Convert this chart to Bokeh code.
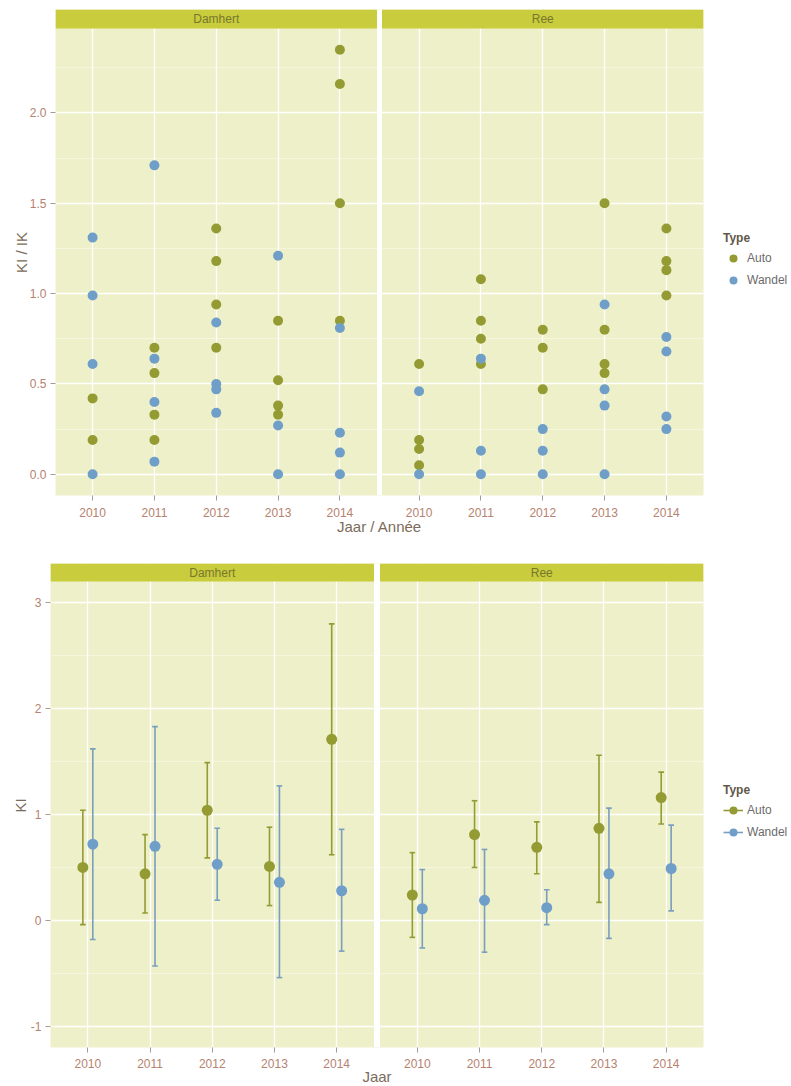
from bokeh.plotting import figure
from bokeh.models import (FixedTicker, Range1d, BoxAnnotation, Label, Legend,
                          LegendItem, ColumnDataSource, PrintfTickFormatter)
from bokeh.embed import file_html
from bokeh.resources import INLINE

FONT = "Liberation Sans"
AUTO = "#949B33"
WANDEL = "#6F9FC9"
WANDEL_BAR = "#7A9EBE"
PANEL_BG = "#EEF0C9"
STRIP = "#C9CC3D"
STRIP_TEXT = "#77782C"
TICK_TEXT = "#B5826F"
AXIS_TITLE = "#7B6B5A"
LEGEND_TEXT = "#6B6B6B"
LEGEND_TITLE = "#62584A"
TICK_LINE = "#A89C90"

years = [2010, 2011, 2012, 2013, 2014]
year_labels = ["2010", "2011", "2012", "2013", "2014"]
facets = ["Damhert", "Ree"]

# ---- top chart: individual KI / IK values ----
dam_auto_year = [2010, 2010, 2011, 2011, 2011, 2011, 2012, 2012, 2012, 2012,
                 2013, 2013, 2013, 2013, 2014, 2014, 2014, 2014]
dam_auto_val = [0.42, 0.19, 0.70, 0.56, 0.33, 0.19, 1.36, 1.18, 0.94, 0.70,
                0.85, 0.52, 0.38, 0.33, 2.35, 2.16, 1.50, 0.85]
dam_wandel_year = [2010, 2010, 2010, 2010, 2011, 2011, 2011, 2011, 2012, 2012, 2012, 2012,
                   2013, 2013, 2013, 2014, 2014, 2014, 2014]
dam_wandel_val = [1.31, 0.99, 0.61, 0.00, 1.71, 0.64, 0.40, 0.07, 0.84, 0.50, 0.47, 0.34,
                  1.21, 0.27, 0.00, 0.81, 0.23, 0.12, 0.00]
ree_auto_year = [2010, 2010, 2010, 2010, 2011, 2011, 2011, 2011, 2012, 2012, 2012,
                 2013, 2013, 2013, 2013, 2014, 2014, 2014, 2014]
ree_auto_val = [0.61, 0.19, 0.14, 0.05, 1.08, 0.85, 0.75, 0.61, 0.80, 0.70, 0.47,
                1.50, 0.80, 0.61, 0.56, 1.36, 1.18, 1.13, 0.99]
ree_wandel_year = [2010, 2010, 2011, 2011, 2011, 2012, 2012, 2012,
                   2013, 2013, 2013, 2013, 2014, 2014, 2014, 2014]
ree_wandel_val = [0.46, 0.00, 0.64, 0.13, 0.00, 0.25, 0.13, 0.00,
                  0.94, 0.47, 0.38, 0.00, 0.76, 0.68, 0.32, 0.25]

# ---- bottom chart: mean KI with interval ----
dam_auto_mean = [0.50, 0.44, 1.04, 0.51, 1.71]
dam_auto_low = [-0.04, 0.07, 0.59, 0.14, 0.62]
dam_auto_high = [1.04, 0.81, 1.49, 0.88, 2.80]
dam_wandel_mean = [0.72, 0.70, 0.53, 0.36, 0.28]
dam_wandel_low = [-0.18, -0.43, 0.19, -0.54, -0.29]
dam_wandel_high = [1.62, 1.83, 0.87, 1.27, 0.86]
ree_auto_mean = [0.24, 0.81, 0.69, 0.87, 1.16]
ree_auto_low = [-0.16, 0.50, 0.44, 0.17, 0.91]
ree_auto_high = [0.64, 1.13, 0.93, 1.56, 1.40]
ree_wandel_mean = [0.11, 0.19, 0.12, 0.44, 0.49]
ree_wandel_low = [-0.26, -0.30, -0.04, -0.17, 0.09]
ree_wandel_high = [0.48, 0.67, 0.29, 1.06, 0.90]

top_y_ticks = [0.0, 0.5, 1.0, 1.5, 2.0]
top_y_minor = [0.25, 0.75, 1.25, 1.75, 2.25]
bot_y_ticks = [-1, 0, 1, 2, 3]
bot_y_minor = [-0.5, 0.5, 1.5, 2.5]


def base_figure(frame_w, frame_h, gap_px, strip_px, y0, y1, bl, bt, bb, yticks, yminor, yfmt,
                xlabel, ylabel, tick_std, xlab_std, ylab_std):
    n = len(years)
    xs0, xs1 = 0.4, n + 0.6
    span = xs1 - xs0
    gap_u = gap_px * (2 * span) / (frame_w - gap_px)
    off = span + gap_u
    panel_px = frame_h - strip_px
    y_end = y1 + (y1 - y0) * strip_px / panel_px
    p = figure(frame_width=frame_w, frame_height=frame_h,
               x_range=Range1d(xs0, xs1 + off), y_range=Range1d(y0, y_end),
               output_backend="svg", toolbar_location=None, title=None,
               min_border_left=bl, min_border_right=88, min_border_top=bt, min_border_bottom=bb)
    p.background_fill_color = PANEL_BG
    p.border_fill_color = "white"
    p.outline_line_color = None
    tick_pos = [i + 1 for i in range(n)] + [i + 1 + off for i in range(n)]
    overrides = {t: year_labels[k % n] for k, t in enumerate(tick_pos)}
    p.xaxis.ticker = FixedTicker(ticks=tick_pos)
    p.xaxis.major_label_overrides = overrides
    p.yaxis.ticker = FixedTicker(ticks=yticks, minor_ticks=yminor)
    p.yaxis.formatter = PrintfTickFormatter(format=yfmt)
    p.xgrid.ticker = FixedTicker(ticks=tick_pos)
    p.ygrid.ticker = FixedTicker(ticks=yticks, minor_ticks=yminor)
    p.grid.grid_line_color = "white"
    p.grid.grid_line_width = 1.3
    p.ygrid.minor_grid_line_color = "white"
    p.ygrid.minor_grid_line_alpha = 0.55
    p.ygrid.minor_grid_line_width = 0.7
    for ax in (p.xaxis, p.yaxis):
        ax.axis_line_color = None
        ax.major_tick_line_color = TICK_LINE
        ax.major_tick_out = 5
        ax.major_tick_in = 0
        ax.minor_tick_line_color = None
        ax.major_label_text_font = FONT
        ax.major_label_text_font_size = "12px"
        ax.major_label_text_color = TICK_TEXT
        ax.axis_label_text_font = FONT
        ax.axis_label_text_font_size = "15px"
        ax.axis_label_text_font_style = "normal"
        ax.axis_label_text_color = AXIS_TITLE
    p.xaxis.major_label_standoff = tick_std
    p.yaxis.major_label_standoff = 4
    p.xaxis.axis_label = xlabel
    p.yaxis.axis_label = ylabel
    p.xaxis.axis_label_standoff = xlab_std
    p.yaxis.axis_label_standoff = ylab_std
    # white gap between the two facet panels
    p.add_layout(BoxAnnotation(left=xs1, right=xs1 + gap_u, bottom=y0, top=y_end,
                               fill_color="white", fill_alpha=1.0, line_color=None))
    # facet strips
    for k, name in enumerate(facets):
        left = xs0 + k * off
        p.add_layout(BoxAnnotation(left=left, right=left + span, bottom=y1, top=y_end,
                                   fill_color=STRIP, fill_alpha=1.0, line_color=None))
        p.add_layout(Label(x=left + span / 2, y=(y1 + y_end) / 2, text=name,
                           text_align="center", text_baseline="middle",
                           text_font=FONT, text_font_size="12px", text_color=STRIP_TEXT))
    return p, off


def make_legend(items, x, y):
    leg = Legend(items=items, title="Type", location=(x, y))
    leg.title_text_font = FONT
    leg.title_text_font_size = "12px"
    leg.title_text_font_style = "bold"
    leg.title_text_color = LEGEND_TITLE
    leg.title_standoff = 3
    leg.label_text_font = FONT
    leg.label_text_font_size = "12px"
    leg.label_text_color = LEGEND_TEXT
    leg.glyph_width = 20
    leg.glyph_height = 20
    leg.label_height = 20
    leg.label_standoff = 4
    leg.spacing = 2
    leg.padding = 0
    leg.margin = 0
    leg.background_fill_alpha = 0
    leg.border_line_color = None
    return leg


# ================= top chart =================
p1, off1 = base_figure(648, 486, 5, 19, -0.1175, 2.4675, 55, 9, 50,
                       top_y_ticks, top_y_minor, "%.1f", "Jaar / Année", "KI / IK",
                       7, -2, -3)


def xpos(yrs, off):
    return [years.index(v) + 1 + off for v in yrs]


src_auto = ColumnDataSource(dict(x=xpos(dam_auto_year, 0) + xpos(ree_auto_year, off1),
                                 y=dam_auto_val + ree_auto_val))
src_wandel = ColumnDataSource(dict(x=xpos(dam_wandel_year, 0) + xpos(ree_wandel_year, off1),
                                   y=dam_wandel_val + ree_wandel_val))
r_a = p1.scatter("x", "y", source=src_auto, size=10, fill_color=AUTO, line_color=None)
r_w = p1.scatter("x", "y", source=src_wandel, size=10, fill_color=WANDEL, line_color=None)
p1.add_layout(make_legend([LegendItem(label="Auto", renderers=[r_a]),
                           LegendItem(label="Wandel", renderers=[r_w])], 20, 205), "right")

# ================= bottom chart =================
p2, off2 = base_figure(653, 484, 6, 18, -1.2, 3.2, 50, 18, 39,
                       bot_y_ticks, bot_y_minor, "%d", "Jaar", "KI",
                       6, -3, -1)

DODGE = 0.08
CAP = 0.045


def range_source(d_mean, d_low, d_high, r_mean, r_low, r_high, shift):
    x = [i + 1 + shift for i in range(len(years))] + [i + 1 + shift + off2 for i in range(len(years))]
    return ColumnDataSource(dict(
        x=x, m=d_mean + r_mean, lo=d_low + r_low, hi=d_high + r_high,
        cx0=[v - CAP for v in x], cx1=[v + CAP for v in x]))


s_auto = range_source(dam_auto_mean, dam_auto_low, dam_auto_high,
                      ree_auto_mean, ree_auto_low, ree_auto_high, -DODGE)
s_wandel = range_source(dam_wandel_mean, dam_wandel_low, dam_wandel_high,
                        ree_wandel_mean, ree_wandel_low, ree_wandel_high, DODGE)

renders = {}
for key, src, col in (("auto", s_auto, AUTO), ("wandel", s_wandel, WANDEL_BAR)):
    seg = p2.segment(x0="x", y0="lo", x1="x", y1="hi", source=src, line_color=col, line_width=1.6)
    p2.segment(x0="cx0", y0="hi", x1="cx1", y1="hi", source=src, line_color=col, line_width=1.6)
    p2.segment(x0="cx0", y0="lo", x1="cx1", y1="lo", source=src, line_color=col, line_width=1.6)
    renders[key] = [seg]
for key, src, col in (("auto", s_auto, AUTO), ("wandel", s_wandel, WANDEL)):
    sc = p2.scatter("x", "m", source=src, size=11, fill_color=col, line_color=None)
    renders[key].append(sc)

p2.add_layout(make_legend([LegendItem(label="Auto", renderers=renders["auto"]),
                           LegendItem(label="Wandel", renderers=renders["wandel"])], 20, 205), "right")

open("out.html", "w").write(file_html([p1, p2], INLINE))
